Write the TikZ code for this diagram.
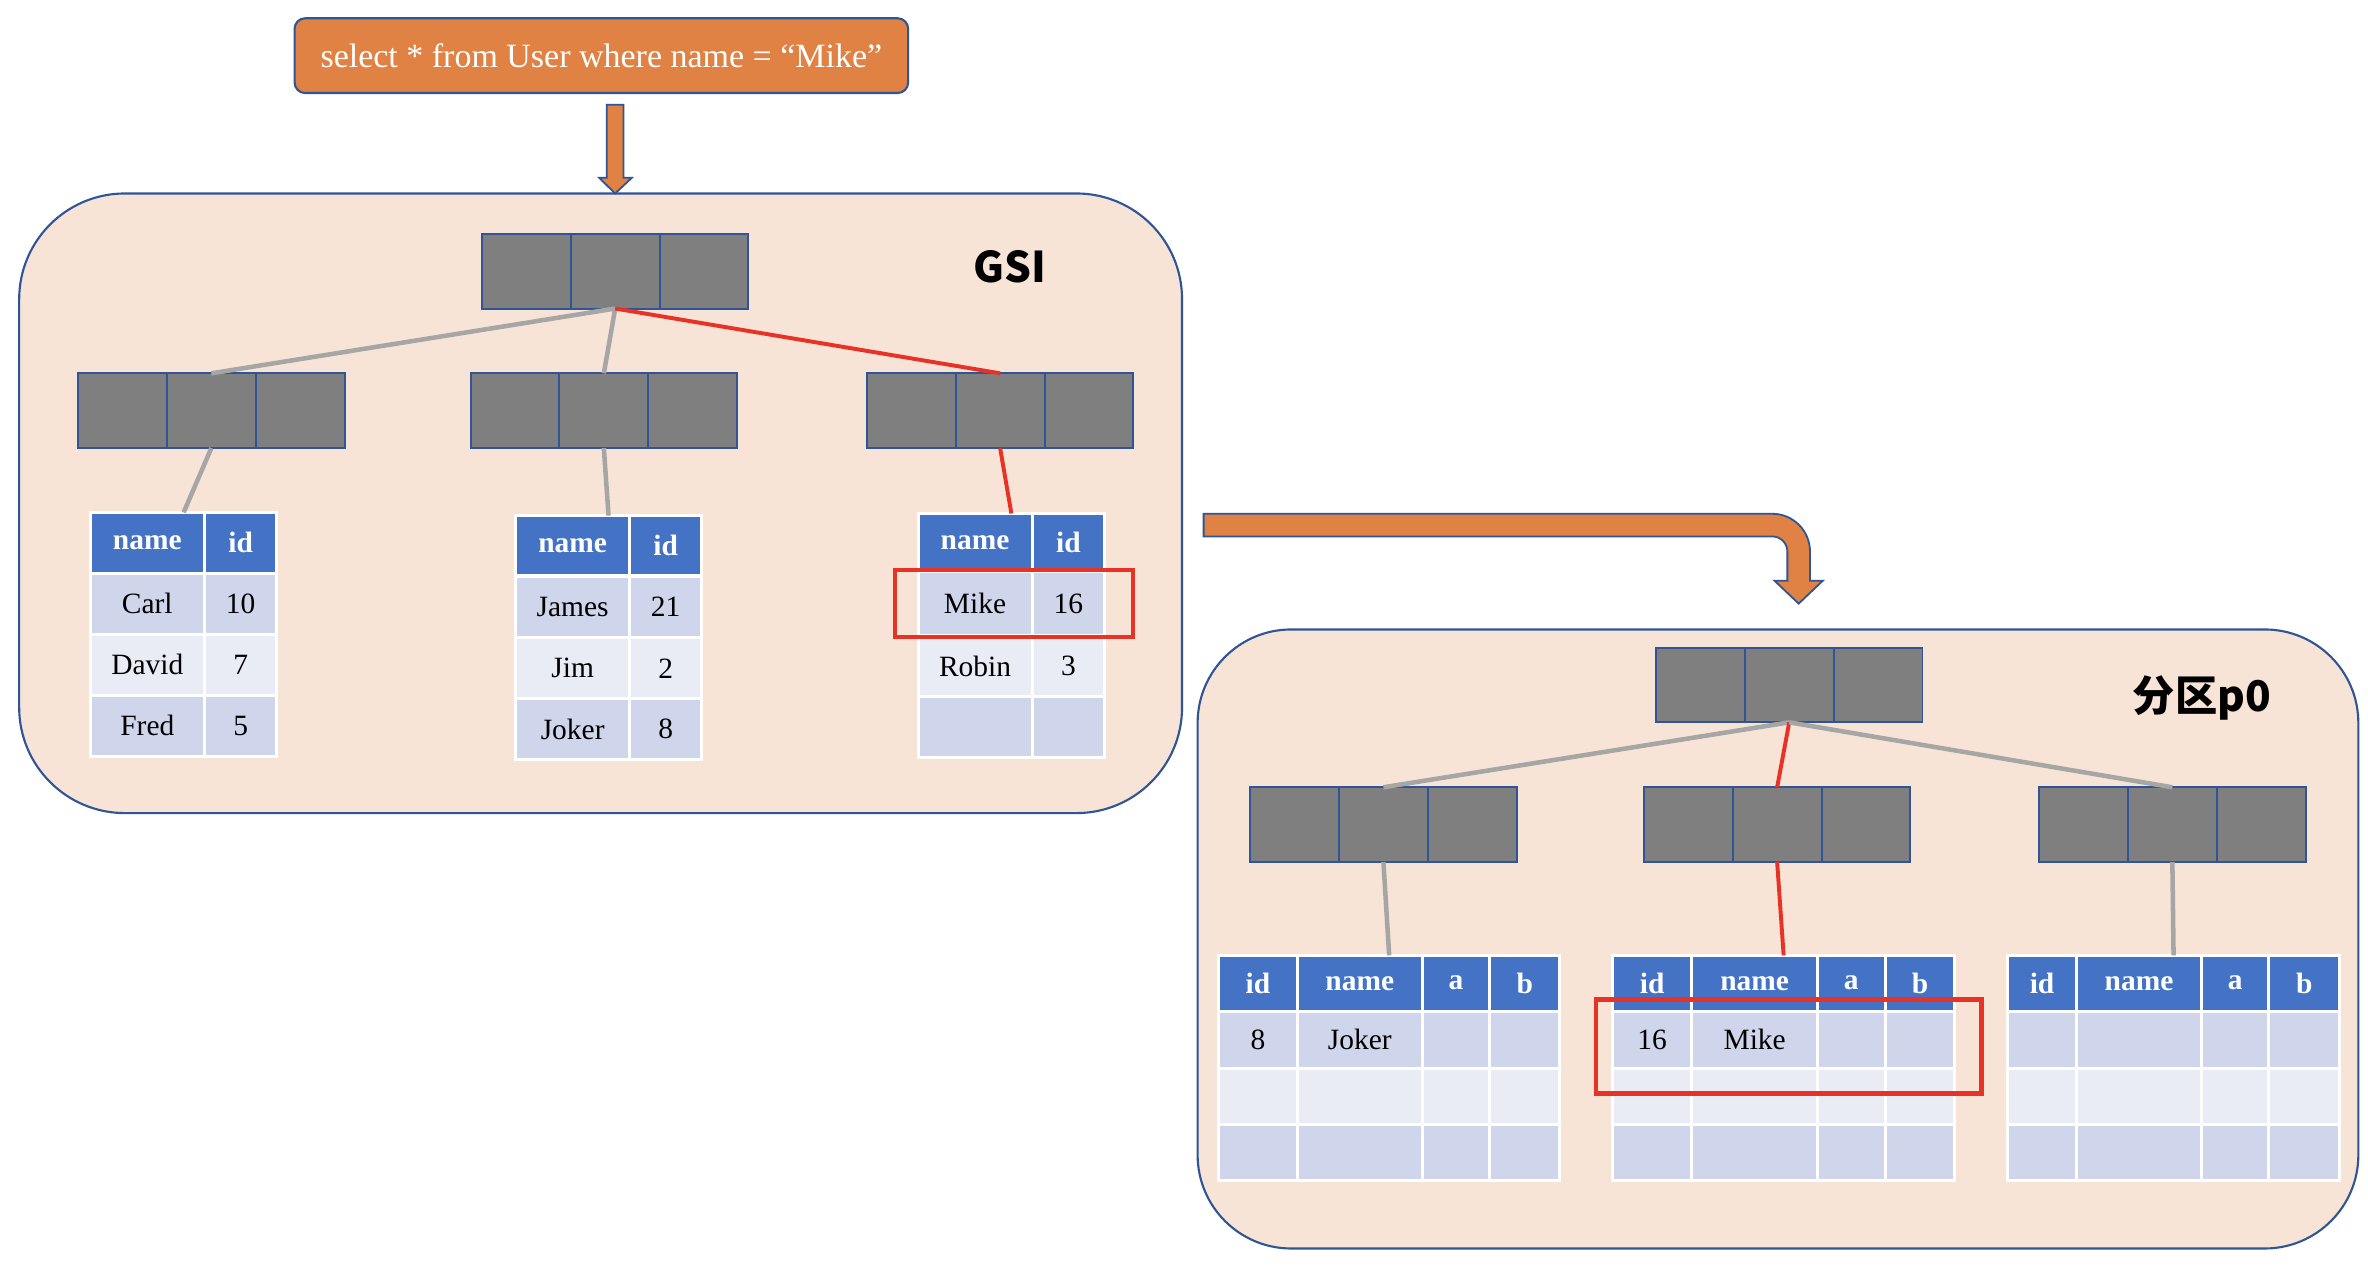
\documentclass[tikz,border=0pt]{standalone}
\usepackage{fontspec}
\setmainfont{Liberation Serif}
\newfontfamily\cjk{Noto Sans CJK SC}
\usetikzlibrary{calc}
\definecolor{qorange}{RGB}{224,130,68}
\definecolor{bblue}{RGB}{47,85,151}
\definecolor{boxfill}{RGB}{247,228,214}
\definecolor{ngray}{RGB}{127,127,127}
\definecolor{cgray}{RGB}{166,166,166}
\definecolor{hred}{RGB}{232,50,38}
\definecolor{thead}{RGB}{68,114,196}
\definecolor{tdark}{RGB}{207,213,234}
\definecolor{tlight}{RGB}{233,235,245}
\tikzset{
  tcellsty/.style={draw=white, line width=2pt, inner sep=0pt, outer sep=0pt, text=black, font=\fontsize{19.5}{22}\selectfont},
  hdr/.style={fill=thead, text=white, font=\fontsize{19.5}{22}\selectfont\bfseries},
  drk/.style={fill=tdark},
  lgt/.style={fill=tlight},
  bcell/.style={draw=bblue, fill=ngray, line width=1.3pt, minimum width=58.83pt, minimum height=49.5pt, inner sep=0pt, outer sep=0pt},
  gline/.style={draw=cgray, line width=3pt},
  rline/.style={draw=hred, line width=2.6pt},
  bigbox/.style={draw=bblue, fill=boxfill, line width=1.4pt, inner sep=0pt, outer sep=0pt},
  qbox/.style={draw=bblue, fill=qorange, line width=1.4pt, rounded corners=7pt, text=white, inner sep=0pt, outer sep=0pt, minimum width=406.3pt, minimum height=49.5pt, font=\fontsize{22.5}{26}\selectfont},
  barrow/.style={fill=qorange, draw=bblue, line width=1.2pt},
  hilite/.style={draw=hred, line width=3pt, inner sep=0pt, outer sep=0pt},
  lbl/.style={inner sep=0pt, text=black},
}
\newcommand\tcell[7]{\node[tcellsty,#6,minimum width={#4-#2},minimum height={#5-#3}] (#1) at ({(#2+#4)/2},{(#3+#5)/2}) {#7};}
\newcommand\grow[6]{%
  \tcell{#1-1}{\xa}{#3}{\xb}{#4}{#2}{#5}%
  \tcell{#1-2}{\xb}{#3}{\xc}{#4}{#2}{#6}}
\newcommand\prow[8]{%
  \tcell{#1-1}{\xa}{#3}{\xb}{#4}{#2}{#5}%
  \tcell{#1-2}{\xb}{#3}{\xc}{#4}{#2}{#6}%
  \tcell{#1-3}{\xc}{#3}{\xd}{#4}{#2}{#7}%
  \tcell{#1-4}{\xd}{#3}{\xe}{#4}{#2}{#8}}
\newcommand\bnode[3]{%
  \foreach \k in {1,2,3} {\node[bcell] (#1-\k) at ({#2+(\k-0.5)*58.83},{#3+24.75}) {};}}
\begin{document}
\begin{tikzpicture}[x=1pt,y=-1pt]
\useasboundingbox (0,0) rectangle (1568,838);
\fill[white] (0,0) rectangle (1568,838);

% query
\node[qbox] (q) at (398.2,36.85) {select * from User where name = “Mike”};

% big boxes
\node[bigbox, rounded corners=70pt, minimum width=770pt, minimum height=410.3pt] (gsi) at (397.7,333.25) {};
\node[bigbox, rounded corners=62pt, minimum width=768.6pt, minimum height=409.9pt] (p0) at (1177.3,621.75) {};

% down arrow
\path[barrow] (401.7,69.3) -- (412.9,69.3) -- (412.9,117.7) -- (418.4,117.7) -- (407.3,128.1) -- (396.7,117.7) -- (401.7,117.7) -- cycle;

% bent arrow
\path[barrow] (797,340.2) -- (1173.5,340.2) arc[start angle=-90, end angle=0, radius=25]
  -- (1198.5,384.5) -- (1207,384.5) -- (1191,399.7) -- (1175,384.5) -- (1183.5,384.5)
  -- (1183.5,365.2) arc[start angle=0, end angle=-90, radius=10] -- (797,355.2) -- cycle;

% labels
\node[lbl] (gsilabel) at (669,176.5) {\cjk\bfseries\fontsize{28}{30}\selectfont GSI};
\node[lbl] (p0label) at (1458,462) {\cjk\bfseries\fontsize{28}{30}\selectfont 分区p0};

% GSI tree
\bnode{groot}{319.1}{154.8}
\bnode{gl}{51.7}{247.2}
\bnode{gm}{311.6}{247.2}
\bnode{gr}{574}{247.2}

% GSI tables
\def\xa{59.8}\def\xb{135.3}\def\xc{183.4}
\grow{t1h}{hdr}{339.3}{379.5}{name}{id}
\grow{t1a}{drk}{379.5}{420}{Carl}{10}
\grow{t1b}{lgt}{420}{460.3}{David}{7}
\grow{t1c}{drk}{460.3}{500.7}{Fred}{5}
\def\xa{341.4}\def\xb{417}\def\xc{464.5}
\grow{t2h}{hdr}{341.4}{381.4}{name}{id}
\grow{t2a}{drk}{381.4}{422.3}{James}{21}
\grow{t2b}{lgt}{422.3}{462.8}{Jim}{2}
\grow{t2c}{drk}{462.8}{502.8}{Joker}{8}
\def\xa{607.9}\def\xb{683.4}\def\xc{731.5}
\grow{t3h}{hdr}{340}{378.7}{name}{id}
\grow{t3a}{drk}{378.7}{420.8}{Mike}{16}
\grow{t3b}{lgt}{420.8}{461.3}{Robin}{3}
\grow{t3c}{drk}{461.3}{501.4}{}{}

\coordinate (t1top) at ($(t1h-1.north west)!0.5!(t1h-2.north east)$);
\coordinate (t2top) at ($(t2h-1.north west)!0.5!(t2h-2.north east)$);
\coordinate (t3top) at ($(t3h-1.north west)!0.5!(t3h-2.north east)$);

\draw[gline] (groot-2.south) -- (gl-2.north);
\draw[gline] (groot-2.south) -- (gm-2.north);
\draw[rline] (groot-2.south) -- (gr-2.north);
\draw[gline] (gl-2.south) -- (t1top);
\draw[gline] (gm-2.south) -- (t2top);
\draw[rline] (gr-2.south) -- (t3top);

\node[hilite, minimum width=157.6pt, minimum height=44.3pt] (hl1) at (671.5,399.55) {};

% p0 tree
\bnode{proot}{1096.5}{428.8}
\bnode{pl}{827.8}{521.3}
\bnode{pm}{1088.5}{521.3}
\bnode{pr}{1350.2}{521.3}

% p0 tables
\def\xa{806.9}\def\xb{859.1}\def\xc{941.7}\def\xd{986.5}\def\xe{1032.8}
\prow{p1h}{hdr}{632.6}{669.5}{id}{name}{a}{b}
\prow{p1a}{drk}{669.5}{707.5}{8}{Joker}{}{}
\prow{p1b}{lgt}{707.5}{744.5}{}{}{}{}
\prow{p1c}{drk}{744.5}{781.5}{}{}{}{}
\def\xa{1067.6}\def\xb{1120.3}\def\xc{1203.4}\def\xd{1248.2}\def\xe{1294.5}
\prow{p2h}{hdr}{632.6}{669.5}{id}{name}{a}{b}
\prow{p2a}{drk}{669.5}{707.5}{16}{Mike}{}{}
\prow{p2b}{lgt}{707.5}{744.5}{}{}{}{}
\prow{p2c}{drk}{744.5}{781.5}{}{}{}{}
\def\xa{1329.3}\def\xb{1375}\def\xc{1457.7}\def\xd{1502.4}\def\xe{1549.2}
\prow{p3h}{hdr}{632.6}{669.5}{id}{name}{a}{b}
\prow{p3a}{drk}{669.5}{707.5}{}{}{}{}
\prow{p3b}{lgt}{707.5}{744.5}{}{}{}{}
\prow{p3c}{drk}{744.5}{781.5}{}{}{}{}

\coordinate (p1top) at ($(p1h-1.north west)!0.5!(p1h-4.north east)$);
\coordinate (p2top) at ($(p2h-1.north west)!0.5!(p2h-4.north east)$);
\coordinate (p3top) at ($(p3h-1.north west)!0.5!(p3h-4.north east)$);

\draw[gline] (proot-2.south) -- (pl-2.north);
\draw[rline] (proot-2.south) -- (pm-2.north);
\draw[gline] (proot-2.south) -- (pr-2.north);
\draw[gline] (pl-2.south) -- (p1top);
\draw[rline] (pm-2.south) -- (p2top);
\draw[gline] (pr-2.south) -- (p3top);

\node[hilite, minimum width=255.2pt, minimum height=62.5pt] (hl2) at (1184.3,692.95) {};
\end{tikzpicture}
\end{document}
